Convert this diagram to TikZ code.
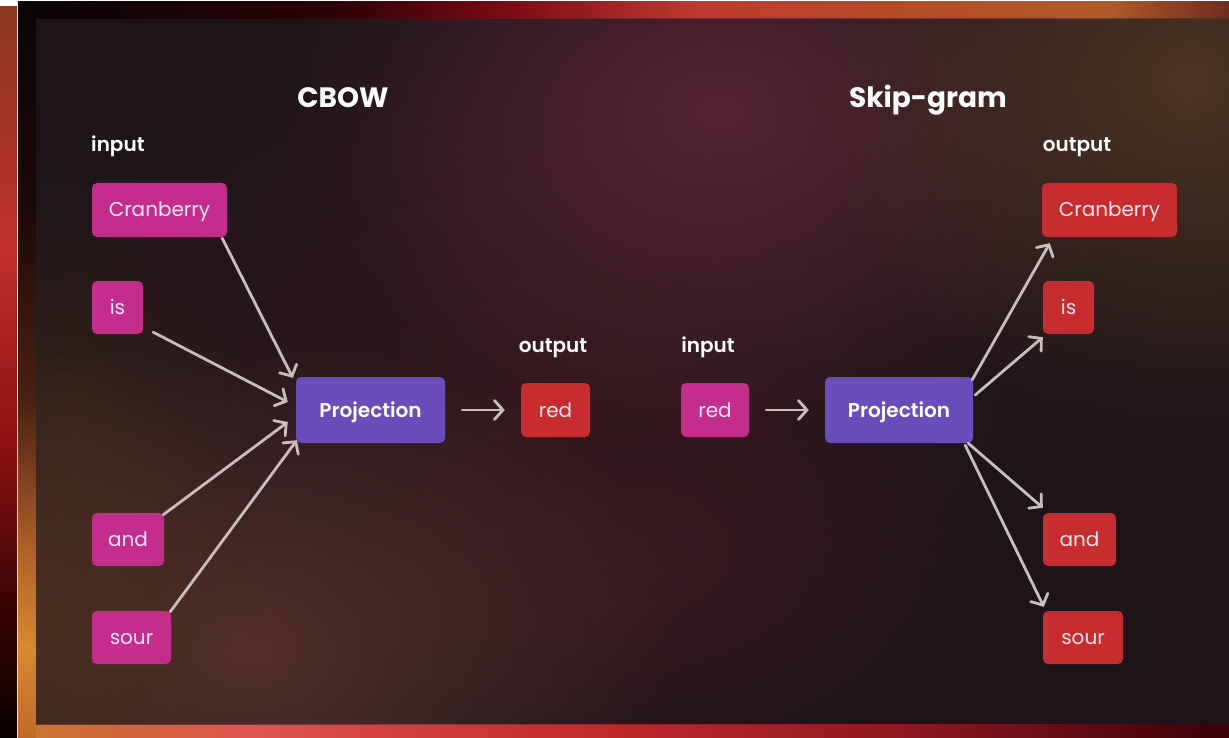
\documentclass[tikz,border=0pt]{standalone}
\usepackage{fontspec}
\setmainfont{Poppins}[BoldFont={Poppins SemiBold}]
\newfontfamily\heavyfont{Poppins Bold}
\usetikzlibrary{arrows.meta,calc,fadings}

\definecolor{bgbase}{HTML}{1C1419}
\definecolor{glowA}{HTML}{552533}
\definecolor{glowB}{HTML}{4E3422}
\definecolor{glowC}{HTML}{54302C}
\definecolor{glowD}{HTML}{4A3020}
\definecolor{glowE}{HTML}{3A1820}
\definecolor{glowF}{HTML}{34181E}
\definecolor{glowG}{HTML}{30201A}
\definecolor{magentabox}{HTML}{C42D8C}
\definecolor{redbox}{HTML}{C92C2E}
\definecolor{purplebox}{HTML}{6A4CBA}
\definecolor{boxtext}{HTML}{F6E8F0}
\definecolor{arrowgray}{HTML}{C9BDBD}
% top frame
\definecolor{tfa}{HTML}{0A0406}
\definecolor{tfb}{HTML}{2A0206}
\definecolor{tfc}{HTML}{7A0A12}
\definecolor{tfd}{HTML}{C0392F}
\definecolor{tfe}{HTML}{B64A28}
\definecolor{tff}{HTML}{B25A2A}
\definecolor{tfg}{HTML}{6E2C1C}
% bottom frame
\definecolor{bfa}{HTML}{C87A30}
\definecolor{bfb}{HTML}{D06838}
\definecolor{bfc}{HTML}{E05550}
\definecolor{bfd}{HTML}{D04040}
\definecolor{bfe}{HTML}{C02A2A}
\definecolor{bff}{HTML}{901820}
\definecolor{bfg}{HTML}{3A0006}
% left frame
\definecolor{lfa}{HTML}{0A0406}
\definecolor{lfb}{HTML}{1A0A08}
\definecolor{lfc}{HTML}{4A2010}
\definecolor{lfd}{HTML}{B06028}
\definecolor{lfe}{HTML}{D88A30}
\definecolor{lff}{HTML}{C06A2A}
% outer strip
\definecolor{osa}{HTML}{8A3820}
\definecolor{osb}{HTML}{C0302A}
\definecolor{osc}{HTML}{8A1010}
\definecolor{osd}{HTML}{3A0505}
\definecolor{ose}{HTML}{0A0000}

\pgfdeclarehorizontalshading{topframe}{100bp}{color(0bp)=(tfa); color(25bp)=(tfa); color(38bp)=(tfb); color(45bp)=(tfc); color(53bp)=(tfd); color(61bp)=(tfe); color(70bp)=(tff); color(75bp)=(tfg); color(100bp)=(tfg)}
\pgfdeclarehorizontalshading{bottomframe}{100bp}{color(0bp)=(bfa); color(25bp)=(bfa); color(28.4bp)=(bfb); color(34.6bp)=(bfc); color(40.8bp)=(bfd); color(49bp)=(bfe); color(61.4bp)=(bff); color(75bp)=(bfg); color(100bp)=(bfg)}
\pgfdeclareverticalshading{leftframe}{100bp}{color(0bp)=(lff); color(25bp)=(lff); color(31bp)=(lfe); color(37.8bp)=(lfd); color(48bp)=(lfc); color(61.5bp)=(lfb); color(75bp)=(lfa); color(100bp)=(lfa)}
\pgfdeclareverticalshading{outerstrip}{100bp}{color(0bp)=(ose); color(25bp)=(ose); color(34.4bp)=(osd); color(44.7bp)=(osc); color(58.4bp)=(osb); color(75bp)=(osa); color(100bp)=(osa)}

\tikzfading[name=glowfade, inner color=transparent!0, outer color=transparent!100]

\tikzset{
  box/.style={rounded corners=5pt, inner sep=0pt, minimum height=54pt,
    text=boxtext, text height=14pt, text depth=0pt,
    font=\fontsize{20}{24}\selectfont},
  inbox/.style={box, fill=magentabox},
  outbox/.style={box, fill=redbox},
  projbox/.style={box, fill=purplebox, minimum height=66pt, minimum width=149pt,
    text=white, font=\fontsize{20}{24}\selectfont\bfseries},
  lab/.style={text=white, inner sep=0pt, font=\fontsize{20}{24}\selectfont\bfseries},
  ttl/.style={text=white, inner sep=0pt, font=\fontsize{28}{32}\selectfont\heavyfont},
  arr/.style={draw=arrowgray, line width=2.8pt, line cap=round,
    -{Straight Barb[length=8.5pt,width=19pt,line cap=round]}},
  glow/.style={path fading=glowfade}
}

\begin{document}
\begin{tikzpicture}[x=1pt,y=-1pt]
\useasboundingbox (0,0) rectangle (1229,738);
\fill[white] (0,0) rectangle (1229,738);
% outer left strip
\shade[shading=outerstrip] (0,7) rectangle (17,738);
% frame
\shade[shading=topframe] (18,2) rectangle (1229,19);
\shade[shading=bottomframe] (18,724) rectangle (1229,738);
\shade[shading=leftframe] (18,2) rectangle (36,738);
% inner panel
\fill[bgbase] (36,19) rectangle (1229,724);
\begin{scope}
  \clip (36,19) rectangle (1229,724);
  \fill[glowF, glow] (560,360) ellipse (560 and 360);
  \fill[glowG, glow] (60,400) ellipse (200 and 260);
  \fill[glowE, glow] (650,560) ellipse (320 and 220);
  \fill[glowA, glow] (720,110) ellipse (440 and 320);
  \fill[glowB, glow] (1190,80) ellipse (380 and 360);
  \fill[glowC, glow] (240,650) ellipse (450 and 320);
  \fill[glowD, glow] (40,620) ellipse (220 and 280);
\end{scope}

% titles
\node[ttl, anchor=base] (tcbow) at (343,108) {CBOW};
\node[ttl, anchor=base] (tskip) at (928,108) {Skip-gram};

% CBOW side
\node[lab, anchor=base west] (linput) at (91,152) {input};
\node[inbox, minimum width=135pt] (cranL) at (159.5,210) {Cranberry};
\node[inbox, minimum width=51pt, minimum height=53pt] (isL) at (117.5,307.5) {is};
\node[inbox, minimum width=72pt, minimum height=53pt] (andL) at (128,539.5) {and};
\node[inbox, minimum width=79pt, minimum height=53pt] (sourL) at (131.5,637.5) {sour};
\node[projbox] (projL) at (370.5,410) {Projection};
\node[lab, anchor=base] (loutput) at (553,352) {output};
\node[outbox, minimum width=69pt] (redOut) at (555.5,410) {red};

% Skip-gram side
\node[lab, anchor=base] (minput) at (708,352) {input};
\node[inbox, minimum width=68pt] (redIn) at (715,410) {red};
\node[projbox, minimum width=148pt] (projR) at (899,410) {Projection};
\node[lab, anchor=base] (routput) at (1077,152) {output};
\node[outbox, minimum width=135pt] (cranR) at (1109.5,210) {Cranberry};
\node[outbox, minimum width=51pt, minimum height=53pt] (isR) at (1068.5,307.5) {is};
\node[outbox, minimum width=73pt, minimum height=53pt] (andR) at (1079.5,539.5) {and};
\node[outbox, minimum width=80pt, minimum height=53pt] (sourR) at (1083,637.5) {sour};

% CBOW arrows
\draw[arr] ($(cranL.south east)+(-5,1)$) -- ($(projL.north west)+(-3,1)$);
\draw[arr] ($(isL.south east)+(10,-2)$) -- ($(projL.west)+(-8,-8)$);
\draw[arr] ($(andL.north east)+(-1,2)$) -- ($(projL.west)+(-8,12)$);
\draw[arr] ($(sourL.north east)+(-1,1)$) -- ($(projL.south west)+(1,-3)$);
\draw[arr] ($(projL.east)+(17,0)$) -- ($(redOut.west)+(-16,0)$);

% Skip-gram arrows
\draw[arr] ($(redIn.east)+(17,0)$) -- ($(projR.west)+(-16,0)$);
\draw[arr] ($(projR.north east)+(-1,3)$) -- ($(cranR.south west)+(8,6)$);
\draw[arr] ($(projR.east)+(2,-15)$) -- ($(isR.south west)+(0,3)$);
\draw[arr] ($(projR.south east)+(-5,0)$) -- ($(andR.north west)+(0,-5)$);
\draw[arr] ($(projR.south east)+(-8,2)$) -- ($(sourR.north west)+(1,-4)$);
\end{tikzpicture}
\end{document}
